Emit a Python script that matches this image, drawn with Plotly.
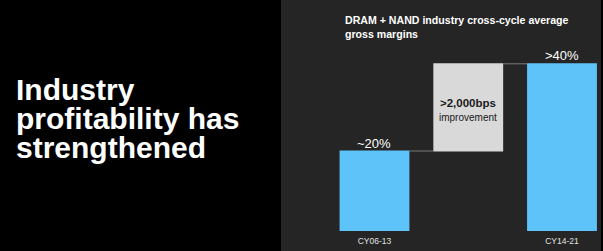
import plotly.graph_objects as go

categories = ["CY06-13", "Change", "CY14-21"]
tick_labels = ["CY06-13", "", "CY14-21"]
measures = ["absolute", "relative", "total"]
values = [20, 21.8, 0]
bar_labels = ["~20%", "", ">40%"]
change_label_bold = ">2,000bps"
change_label_sub = "improvement"
title_text = "<b>DRAM + NAND industry cross-cycle average<br>gross margins</b>"
headline = ["Industry", "profitability has", "strengthened"]

W, H = 603, 251
L, R, T, B = 300, 3, 50, 20
PW, PH = W - L - R, H - T - B

def px_x(p):
    return (p - L) / PW

def px_y(p):
    return (H - B - p) / PH

FONT = "Liberation Sans, Arial, sans-serif"

fig = go.Figure(go.Waterfall(
    x=categories,
    measure=measures,
    y=values,
    textposition="none",
    width=0.745,
    increasing=dict(marker=dict(color="#d9d9d9")),
    totals=dict(marker=dict(color="#5ec3f8")),
    connector=dict(line=dict(color="#7a7a7a", width=1)),
    cliponaxis=False,
    hoverinfo="skip",
))

# cumulative tops for labels
tops = []
run = 0
for m, v in zip(measures, values):
    if m == "absolute":
        run = v
    elif m == "relative":
        run += v
    tops.append(run)

mid_base = values[0] + values[1] / 2.0

annotations = []
for cat, top, lab in zip(categories, tops, bar_labels):
    if lab:
        annotations.append(dict(x=cat, y=top, xref="x", yref="y", text=lab, showarrow=False,
                                yanchor="middle", yshift=8,
                                font=dict(family=FONT, size=13, color="#ffffff")))
annotations += [
    dict(x=categories[1], y=mid_base, xref="x", yref="y", text="<b>" + change_label_bold + "</b>",
         showarrow=False, yshift=4, font=dict(family=FONT, size=11.5, color="#1a1a1a")),
    dict(x=categories[1], y=mid_base, xref="x", yref="y", text=change_label_sub,
         showarrow=False, yshift=-10, font=dict(family=FONT, size=10, color="#1a1a1a")),
    dict(x=px_x(343), y=px_y(12), xref="paper", yref="paper", text=title_text,
         xanchor="left", yanchor="top", align="left", showarrow=False,
         font=dict(family=FONT, size=10.6, color="#ffffff")),
]
baselines = [99, 128, 157]
for line, bl in zip(headline, baselines):
    annotations.append(dict(x=px_x(14), y=px_y(bl - 10), xref="paper", yref="paper",
                            text="<b>" + line + "</b>", xanchor="left", yanchor="middle",
                            showarrow=False, font=dict(family=FONT, size=30, color="#ffffff")))

fig.update_layout(
    width=W, height=H,
    margin=dict(l=L, r=R, t=T, b=B, pad=0),
    paper_bgcolor="#000000",
    plot_bgcolor="rgba(0,0,0,0)",
    showlegend=False,
    xaxis=dict(type="category", tickvals=categories, ticktext=tick_labels,
               range=[-0.7946, 2.4054], showgrid=False, zeroline=False, showline=False,
               ticks="", ticklabelstandoff=3,
               tickfont=dict(family=FONT, size=8.5, color="#e0e0e0")),
    yaxis=dict(range=[0, 45.25], visible=False, showgrid=False, zeroline=False),
    shapes=[dict(type="rect", xref="paper", yref="paper", x0=px_x(281), x1=px_x(601),
                 y0=px_y(251), y1=px_y(0), fillcolor="#252525", line=dict(width=0), layer="below")],
    annotations=annotations,
)
fig.update_xaxes(tickprefix="<b>", ticksuffix="</b>")

fig.write_html("out.html")
